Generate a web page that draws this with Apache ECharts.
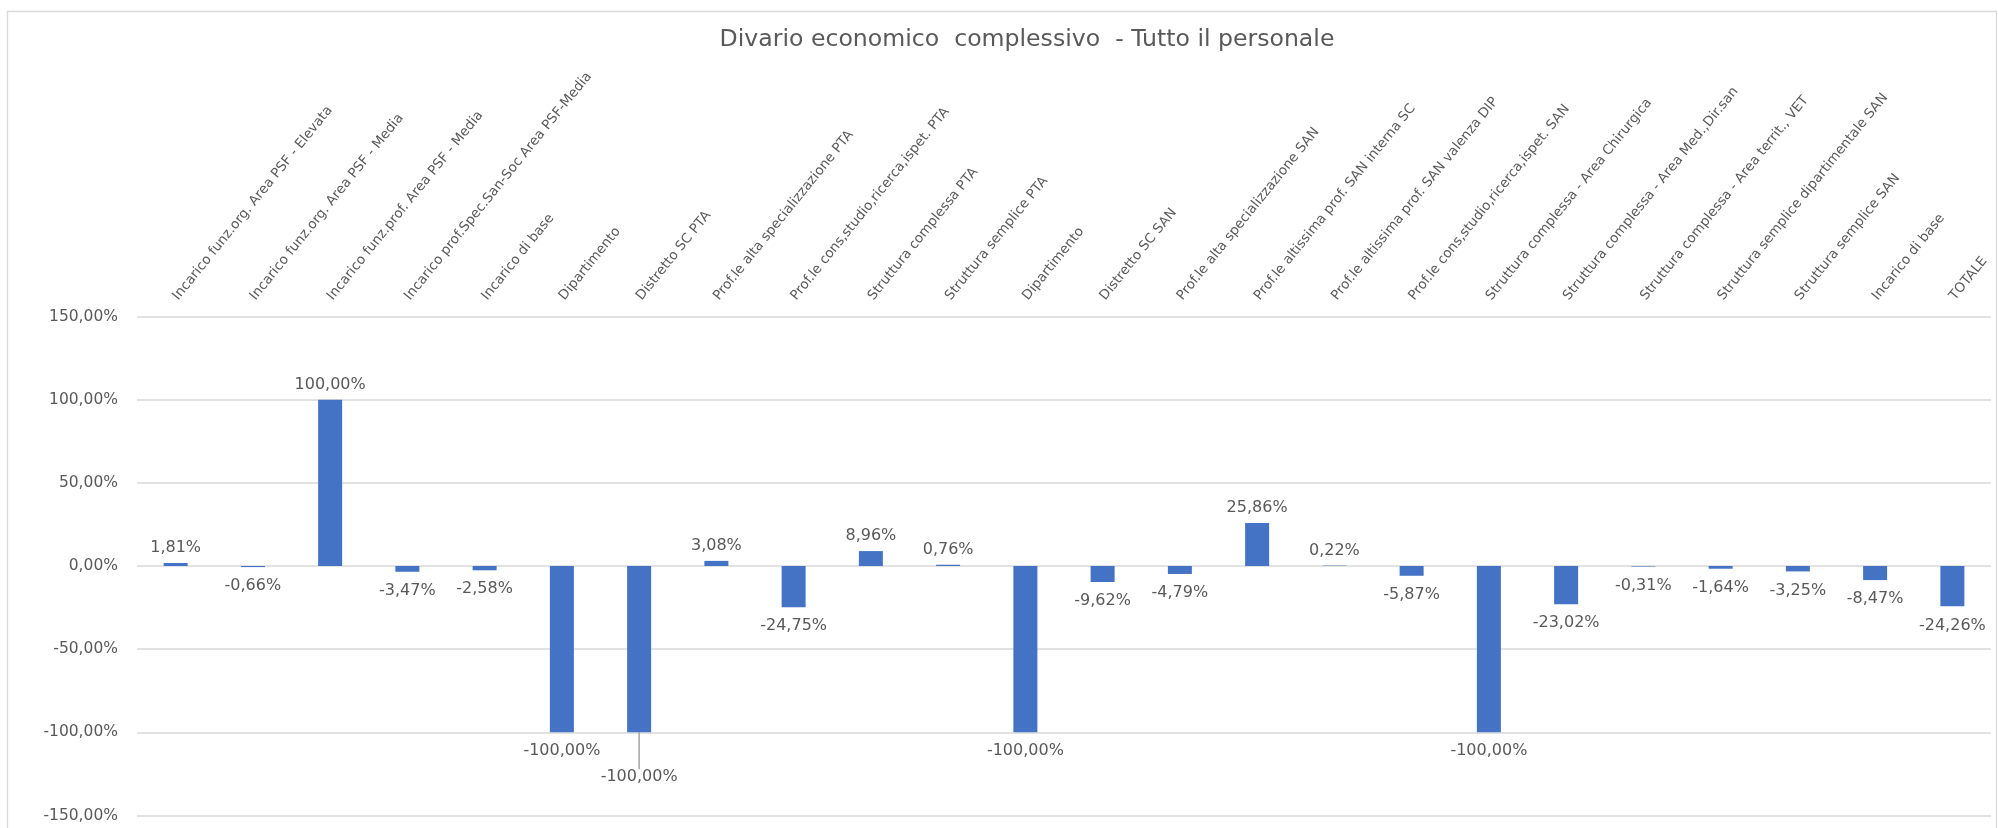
<!DOCTYPE html>
<html>
<head>
<meta charset="utf-8">
<style>
  html, body { margin: 0; padding: 0; background: #ffffff; }
  #chart { width: 1998px; height: 828px; }
</style>
<script src="https://cdn.jsdelivr.net/npm/echarts@6/dist/echarts.min.js"></script>
</head>
<body>
<div id="chart"></div>
<script>
// Economic gap per role (percent), whole staff
const chartTitle = 'Divario economico  complessivo  - Tutto il personale';

const categories = [
  'Incarico funz.org. Area PSF - Elevata',
  'Incarico funz.org. Area PSF - Media',
  'Incarico funz.prof. Area PSF - Media',
  'Incarico prof.Spec.San-Soc Area PSF-Media',
  'Incarico di base',
  'Dipartimento',
  'Distretto SC PTA',
  'Prof.le alta specializzazione PTA',
  'Prof.le cons,studio,ricerca,ispet. PTA',
  'Struttura complessa PTA',
  'Struttura semplice PTA',
  'Dipartimento',
  'Distretto SC SAN',
  'Prof.le alta specializzazione SAN',
  'Prof.le altissima prof. SAN interna SC',
  'Prof.le altissima prof. SAN valenza DIP',
  'Prof.le cons,studio,ricerca,ispet. SAN',
  'Struttura complessa - Area Chirurgica',
  'Struttura complessa - Area Med.,Dir.san',
  'Struttura complessa - Area territ., VET',
  'Struttura semplice dipartimentale SAN',
  'Struttura semplice SAN',
  'Incarico di base',
  'TOTALE'
];

const gapPercent = [
  1.81, -0.66, 100.00, -3.47, -2.58, -100.00, -100.00, 3.08, -24.75, 8.96, 0.76,
  -100.00, -9.62, -4.79, 25.86, 0.22, -5.87, -100.00, -23.02, -0.31, -1.64, -3.25,
  -8.47, -24.26
];

// value axis ticks: -150% .. 150% every 50%
const yMin = -150;
const yMax = 150;
const yStep = 50;

// the label of this bar is pushed down and tied to its bar with a short guide
const guidedLabelIndex = 6;

const FONT = 'DejaVu Sans';
const TEXT_GREY = '#595959';
const BAR_BLUE = '#4472C4';

function pct(v) {
  return v.toFixed(2).replace('.', ',') + '%';
}

const chart = echarts.init(document.getElementById('chart'), null, { renderer: 'canvas' });

const seriesData = gapPercent.map((v, i) => {
  const item = {
    value: v,
    label: v >= 0 ? { position: 'top', distance: 7 } : { position: 'bottom', distance: 11 }
  };
  if (i === guidedLabelIndex) {
    item.labelLine = { show: true };
  }
  return item;
});

chart.setOption({
  backgroundColor: '#ffffff',
  animation: false,
  title: {
    text: chartTitle,
    left: 1027,
    top: 28,
    textAlign: 'center',
    padding: 0,
    textStyle: {
      fontFamily: FONT,
      fontSize: 23.6,
      fontWeight: 'normal',
      color: TEXT_GREY
    }
  },
  graphic: [{
    type: 'rect',
    left: 5,
    top: 9,
    shape: { width: 1989, height: 840 },
    style: { fill: 'none', stroke: '#d9d9d9', lineWidth: 1.3 },
    silent: true,
    z: -1
  }],
  grid: {
    left: 137,
    right: 7,
    top: 316.5,
    bottom: 12.5,
    containLabel: false,
    outerBoundsMode: 'none'
  },
  xAxis: {
    type: 'category',
    position: 'top',
    data: categories,
    axisLine: { show: false, onZero: false },
    axisTick: { show: false },
    splitLine: { show: false },
    axisLabel: {
      interval: 0,
      rotate: -51,
      margin: 18,
      fontFamily: FONT,
      fontSize: 13.5,
      color: TEXT_GREY
    }
  },
  yAxis: {
    type: 'value',
    min: yMin,
    max: yMax,
    interval: yStep,
    axisLine: { show: false },
    axisTick: { show: false },
    splitLine: { lineStyle: { color: '#d9d9d9', width: 1.5 } },
    axisLabel: {
      margin: 19,
      fontFamily: FONT,
      fontSize: 15.5,
      color: TEXT_GREY,
      formatter: (v) => pct(v)
    }
  },
  series: [{
    type: 'bar',
    data: seriesData,
    barWidth: 24,
    itemStyle: { color: BAR_BLUE },
    label: {
      show: true,
      fontFamily: FONT,
      fontSize: 16,
      color: TEXT_GREY,
      formatter: (p) => pct(p.value)
    },
    labelLine: {
      show: false,
      lineStyle: { color: '#a6a6a6', width: 1.5 }
    },
    labelLayout: (params) => (params.dataIndex === guidedLabelIndex ? { dy: 26 } : {})
  }]
});
</script>
</body>
</html>
